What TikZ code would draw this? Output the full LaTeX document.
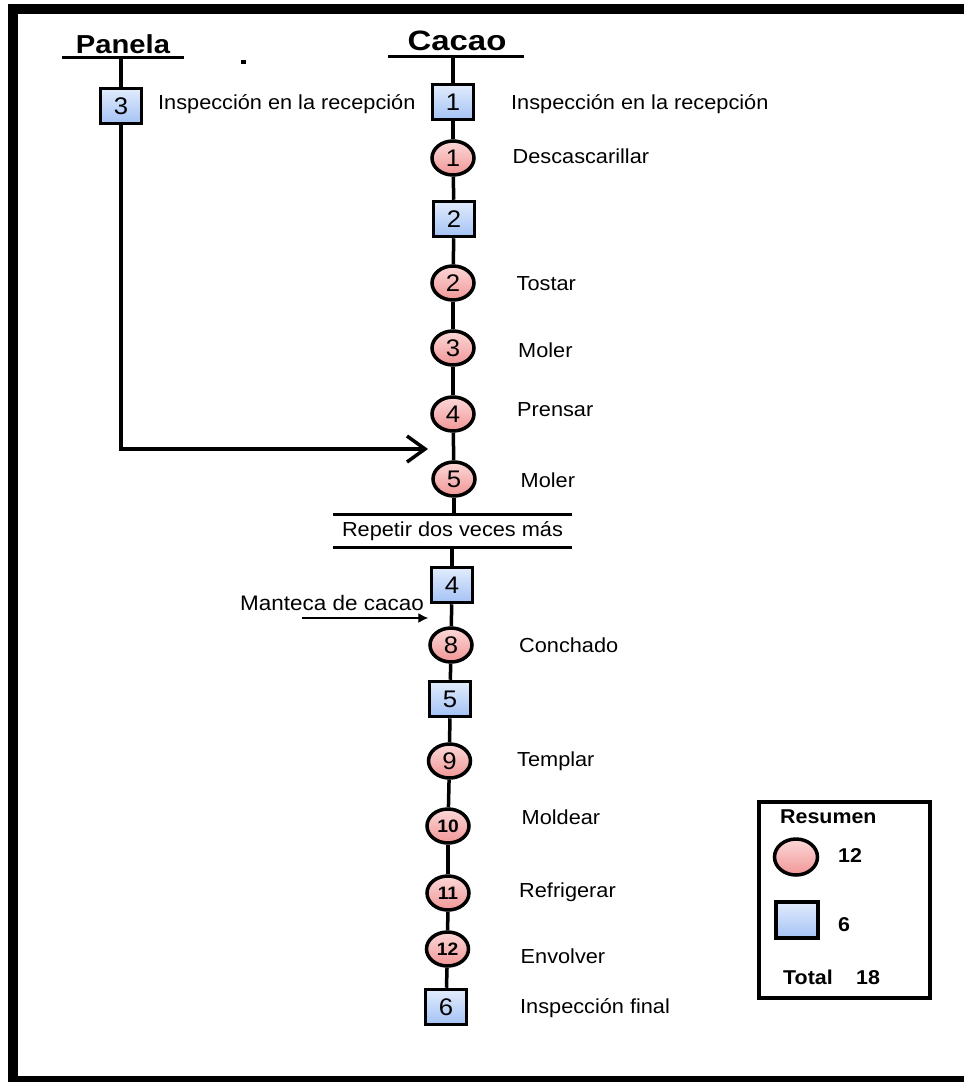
\documentclass[tikz,border=0pt]{standalone}
\usepackage{fontspec}
\setmainfont{Liberation Sans}[FakeStretch=1.07]
\usetikzlibrary{arrows.meta,shapes.geometric}

\definecolor{opTop}{RGB}{252,216,216}
\definecolor{opBot}{RGB}{241,150,150}
\definecolor{inTop}{RGB}{226,236,252}
\definecolor{inBot}{RGB}{164,194,245}

\begin{document}
\begin{tikzpicture}[x=1pt,y=-1pt,
  op/.style={ellipse, draw, line width=3.5pt, minimum width=42pt, minimum height=34pt,
    inner sep=0pt, top color=opTop, bottom color=opBot, font=\fontsize{24}{24}\selectfont},
  opsmall/.style={op, font=\bfseries\fontsize{18}{18}\selectfont},
  insp/.style={rectangle, draw, line width=3.5pt, minimum width=41pt, minimum height=35pt,
    inner sep=0pt, top color=inTop, bottom color=inBot, font=\fontsize{24}{24}\selectfont},
  lbl/.style={anchor=base west, inner sep=0pt, font=\fontsize{20.3}{24}\selectfont},
  head/.style={anchor=base, inner sep=0pt},
  legtxt/.style={anchor=base west, inner sep=0pt, font=\bfseries\fontsize{20}{24}\selectfont},
  flow/.style={line width=3.5pt},
  bar/.style={line width=3pt},
  thinarrow/.style={line width=1.3pt, -{Latex[length=10pt,width=10pt]}},
  joinarrow/.style={flow, -{Straight Barb[length=18pt,width=26pt]}}
]
\useasboundingbox (0,0) rectangle (964,1082);
\clip (0,0) rectangle (964,1082);

% outer frame (right and bottom sides run past the page edge)
\draw[line width=10pt] (12.5,9) rectangle (985,1081);

% column headings
\node[head, font=\bfseries\fontsize{26}{28}\selectfont] (panela) at (123,53) {\scalebox{1.05}[1]{Panela}};
\node[head, font=\bfseries\fontsize{28}{30}\selectfont] (cacao) at (457,50) {\scalebox{1.1}[1]{Cacao}};
\coordinate (pBar) at (121,57.5);
\coordinate (cBar) at (453,56);
\draw[bar] (62,57.5) -- (184,57.5);
\draw[bar] (388,56) -- (524,56);
\fill (241,60) rectangle (246,64);

% panela branch
\node[insp] (b3) at (121,106) {3};
\node[lbl] (lb3) at (158,109.5) {Inspección en la recepción};

% cacao main line
\node[insp] (b1) at (453,102) {1};
\node[op] (o1) at (453,158) {1};
\node[insp] (b2) at (454,219) {2};
\node[op] (o2) at (453,283) {2};
\node[op] (o3) at (453,348) {3};
\node[op] (o4) at (453,414) {4};
\node[op] (o5) at (454,479) {5};
\node[inner sep=0pt, minimum width=239pt, minimum height=32pt, font=\fontsize{20.3}{24}\selectfont]
  (rep) at (452.5,531) {Repetir dos veces más};
\draw[bar] (rep.north west) -- (rep.north east);
\draw[bar] (rep.south west) -- (rep.south east);
\node[insp] (b4) at (452,585) {4};
\node[op] (o8) at (451,645) {8};
\node[insp] (b5) at (450,699) {5};
\node[op] (o9) at (449.5,761) {9};
\node[opsmall] (o10) at (448,826) {10};
\node[opsmall] (o11) at (448,893) {11};
\node[opsmall] (o12) at (447.5,949) {12};
\node[insp] (b6) at (446,1007) {6};

% step labels
\node[lbl] (lb1) at (511,109.5) {Inspección en la recepción};
\node[lbl] (lo1) at (512.5,163) {Descascarillar};
\node[lbl] (lo2) at (516.5,290) {Tostar};
\node[lbl] (lo3) at (518,357) {Moler};
\node[lbl] (lo4) at (517,416) {Prensar};
\node[lbl] (lo5) at (520.5,487) {Moler};
\node[lbl] (lo8) at (519,652) {Conchado};
\node[lbl] (lo9) at (517,766.5) {Templar};
\node[lbl] (lo10) at (521.5,824.5) {Moldear};
\node[lbl] (lo11) at (519,897.5) {Refrigerar};
\node[lbl] (lo12) at (520.5,963.5) {Envolver};
\node[lbl] (lb6) at (520,1013.5) {Inspección final};

% connectors
\draw[flow] (pBar) -- (b3.north);
\draw[flow] (cBar) -- (b1);
\draw[flow] (b1) -- (o1);
\draw[flow] (o1) -- (b2);
\draw[flow] (b2) -- (o2);
\draw[flow] (o2) -- (o3);
\draw[flow] (o3) -- (o4);
\draw[flow] (o4) -- (o5);
\draw[flow] (o5) -- (o5 |- rep.north);
\draw[flow] (b4 |- rep.south) -- (b4);
\draw[flow] (b4) -- (o8);
\draw[flow] (o8) -- (b5);
\draw[flow] (b5) -- (o9);
\draw[flow] (o9) -- (o10);
\draw[flow] (o10) -- (o11);
\draw[flow] (o11) -- (o12);
\draw[flow] (o12) -- (b6);

% panela joins the cacao line
\coordinate (pIn) at (428,449);
\draw[joinarrow] (b3.south) |- (pIn);

% cocoa butter input
\node[anchor=base west, inner sep=0pt, font=\fontsize{21}{24}\selectfont] (mant) at (240,610)
  {Manteca de cacao};
\coordinate (mStart) at (302,618);
\draw[thinarrow] (mStart) -- (mStart -| o8.west);

% summary box
\node[draw, line width=4pt, minimum width=171pt, minimum height=196pt, inner sep=0pt] (leg) at (844.5,900) {};
\node[legtxt] (lt) at (780,823) {Resumen};
\node[op, minimum width=43pt, minimum height=36pt] (lo) at (796,857) {};
\node[legtxt] (lon) at (838,862.5) {12};
\node[insp, minimum width=42pt, minimum height=36pt] (ls) at (797,920) {};
\node[legtxt] (lsn) at (838,931) {6};
\node[legtxt] (ltot) at (783,984) {Total};
\node[legtxt] (ltotn) at (856,984) {18};
\end{tikzpicture}
\end{document}
